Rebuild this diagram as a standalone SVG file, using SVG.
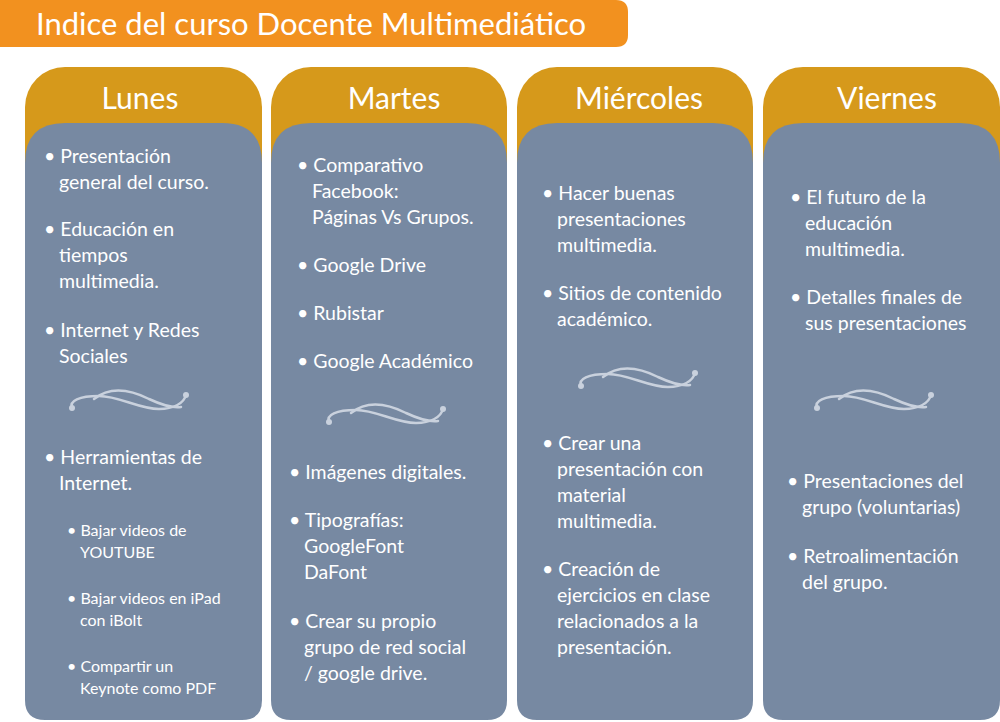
<svg xmlns="http://www.w3.org/2000/svg" width="1000" height="722" viewBox="0 0 1000 722">
<style>
text{font-family:Lato,"Open Sans","Liberation Sans",sans-serif;fill:#fff}
.t{font-size:31px}
.h{font-size:30px;text-anchor:middle}
.b{font-size:19.5px}
.s{font-size:16px}
.gold{fill:#D6991B}
.blue{fill:#7789A2}
.orn{fill:none;stroke:#C9D1DD;stroke-width:2.5;stroke-linecap:round}
</style>
<defs>
<g id="orn">
<path class="orn" d="M-57,7 C-60,0 -50,-5 -30,-5 C-10,-5 10,8 30,8 C45,8 55,2 57,-6"/>
<path class="orn" d="M-35,-2 C-20,-14 0,-12 20,-2 C35,5 45,7 52,6"/>
<circle cx="-57" cy="7" r="3" fill="#C9D1DD"/>
<circle cx="57" cy="-6" r="3" fill="#C9D1DD"/>
</g>
</defs>
<g id="title">
<path d="M0,0 H616 Q628,0 628,12 V35 Q628,47 616,47 H0 Z" fill="#F2911F"/>
<text class="t" x="36" y="35">Indice del curso Docente Multimediático</text>
</g>
<g id="lunes">
<rect class="gold" x="25" y="67" width="237" height="653" rx="40"/>
<path class="blue" d="M25,163 Q25,123 65,123 H222 Q262,123 262,163 V700 Q262,720 242,720 H45 Q25,720 25,700 Z"/>
<text class="h" x="140" y="109">Lunes</text>
<text class="b" x="44" y="163">• Presentación</text><text class="b" x="59" y="189">general del curso.</text>
<text class="b" x="44" y="236">• Educación en</text><text class="b" x="59" y="262">tiempos</text><text class="b" x="59" y="288">multimedia.</text>
<text class="b" x="44" y="337">• Internet y Redes</text><text class="b" x="59" y="363">Sociales</text>
<use href="#orn" x="129" y="401"/>
<text class="b" x="44" y="464">• Herramientas de</text><text class="b" x="59" y="490">Internet.</text>
<text class="s" x="67" y="536">• Bajar videos de</text><text class="s" x="80" y="558">YOUTUBE</text>
<text class="s" x="67" y="604">• Bajar videos en iPad</text><text class="s" x="80" y="626">con iBolt</text>
<text class="s" x="67" y="672">• Compartir un</text><text class="s" x="80" y="694">Keynote como PDF</text>
</g>
<g id="martes">
<rect class="gold" x="271" y="67" width="236" height="653" rx="40"/>
<path class="blue" d="M271,163 Q271,123 311,123 H467 Q507,123 507,163 V700 Q507,720 487,720 H291 Q271,720 271,700 Z"/>
<text class="h" x="394" y="109">Martes</text>
<text class="b" x="297" y="172">• Comparativo</text><text class="b" x="312" y="198">Facebook:</text><text class="b" x="312" y="224">Páginas Vs Grupos.</text>
<text class="b" x="297" y="272">• Google Drive</text>
<text class="b" x="297" y="320">• Rubistar</text>
<text class="b" x="297" y="368">• Google Académico</text>
<use href="#orn" x="386" y="415"/>
<text class="b" x="289" y="479">• Imágenes digitales.</text>
<text class="b" x="289" y="527">• Tipografías:</text><text class="b" x="304" y="553">GoogleFont</text><text class="b" x="304" y="579">DaFont</text>
<text class="b" x="289" y="628">• Crear su propio</text><text class="b" x="304" y="654">grupo de red social</text><text class="b" x="304" y="680">/ google drive.</text>
</g>
<g id="miercoles">
<rect class="gold" x="517" y="67" width="236" height="653" rx="40"/>
<path class="blue" d="M517,163 Q517,123 557,123 H713 Q753,123 753,163 V700 Q753,720 733,720 H537 Q517,720 517,700 Z"/>
<text class="h" x="639" y="109">Miércoles</text>
<text class="b" x="542" y="200">• Hacer buenas</text><text class="b" x="557" y="226">presentaciones</text><text class="b" x="557" y="252">multimedia.</text>
<text class="b" x="542" y="300">• Sitios de contenido</text><text class="b" x="557" y="326">académico.</text>
<use href="#orn" x="638" y="379"/>
<text class="b" x="542" y="450">• Crear una</text><text class="b" x="557" y="476">presentación con</text><text class="b" x="557" y="502">material</text><text class="b" x="557" y="528">multimedia.</text>
<text class="b" x="542" y="576">• Creación de</text><text class="b" x="557" y="602">ejercicios en clase</text><text class="b" x="557" y="628">relacionados a la</text><text class="b" x="557" y="654">presentación.</text>
</g>
<g id="viernes">
<rect class="gold" x="763" y="67" width="237" height="653" rx="40"/>
<path class="blue" d="M763,163 Q763,123 803,123 H960 Q1000,123 1000,163 V700 Q1000,720 980,720 H783 Q763,720 763,700 Z"/>
<text class="h" x="887" y="109">Viernes</text>
<text class="b" x="790" y="204">• El futuro de la</text><text class="b" x="805" y="230">educación</text><text class="b" x="805" y="256">multimedia.</text>
<text class="b" x="790" y="304">• Detalles finales de</text><text class="b" x="805" y="330">sus presentaciones</text>
<use href="#orn" x="874" y="401"/>
<text class="b" x="787" y="488">• Presentaciones del</text><text class="b" x="802" y="514">grupo (voluntarias)</text>
<text class="b" x="787" y="563">• Retroalimentación</text><text class="b" x="802" y="589">del grupo.</text>
</g>
<g id="connectors"/>
</svg>
